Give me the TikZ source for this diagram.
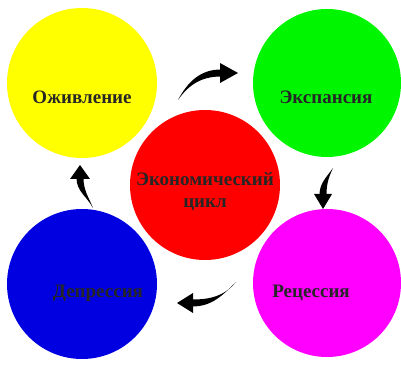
\documentclass[tikz,border=0pt]{standalone}
\usepackage{fontspec}
\setmainfont{Liberation Serif}
\begin{document}
\begin{tikzpicture}[x=1pt,y=1pt,
  blob/.style={circle,minimum size=#1,inner sep=0pt,draw=none},
  lbl/.style={font=\fontsize{19}{22}\selectfont\bfseries,text=black!85,align=center},
  shaft/.style={fill=black,draw=none},
  headtip/.style={fill=black,draw=none}]
\definecolor{cyel}{RGB}{255,255,0}
\definecolor{cgrn}{RGB}{0,245,0}
\definecolor{cblu}{RGB}{0,0,225}
\definecolor{cmag}{RGB}{255,0,255}
\definecolor{cred}{RGB}{255,0,0}
\useasboundingbox (0,0) rectangle (401,364);
\node[blob=150pt,fill=cyel] (ozh) at (82,281) {};
\node[blob=148pt,fill=cgrn] (exp) at (327,281) {};
\node[blob=150pt,fill=cblu] (dep) at (82,80) {};
\node[blob=148pt,fill=cmag] (rec) at (327,81) {};
\node[blob=150pt,fill=cred] (eko) at (205,179) {};
\node[lbl] (tozh) at (82,267) {Оживление};
\node[lbl] (texp) at (326,267) {Экспансия};
\node[lbl] (tdep) at (98,71) {Депрессия};
\node[lbl] (trec) at (311,71) {Рецессия};
\node[lbl] (teko) at (205,172) {Экономический\\цикл};
% top arrow
\coordinate (t1) at (178,264);
\fill[shaft] (t1) to[out=62,in=180] (221,294.5) -- (221,287.5) to[out=180,in=55] (t1);
\fill[headtip] (220,301) -- (238,291) -- (220,281) -- cycle;
% right arrow
\coordinate (t2) at (333,196);
\fill[shaft] (t2) to[out=235,in=90] (319.5,169) -- (326.5,169) to[out=90,in=245] (t2);
\fill[headtip] (314,170) -- (323,155) -- (332,170) -- cycle;
% bottom arrow
\coordinate (t3) at (236,82);
\fill[shaft] (t3) to[out=230,in=0] (192,64.5) -- (192,57.5) to[out=0,in=225] (t3);
\fill[headtip] (193,71) -- (177,61) -- (193,51) -- cycle;
% left arrow
\coordinate (t4) at (93,156);
\fill[shaft] (t4) to[out=118,in=270] (76.5,186) -- (83.5,186) to[out=270,in=112] (t4);
\fill[headtip] (70,185) -- (80,199) -- (90,185) -- cycle;
\end{tikzpicture}
\end{document}
